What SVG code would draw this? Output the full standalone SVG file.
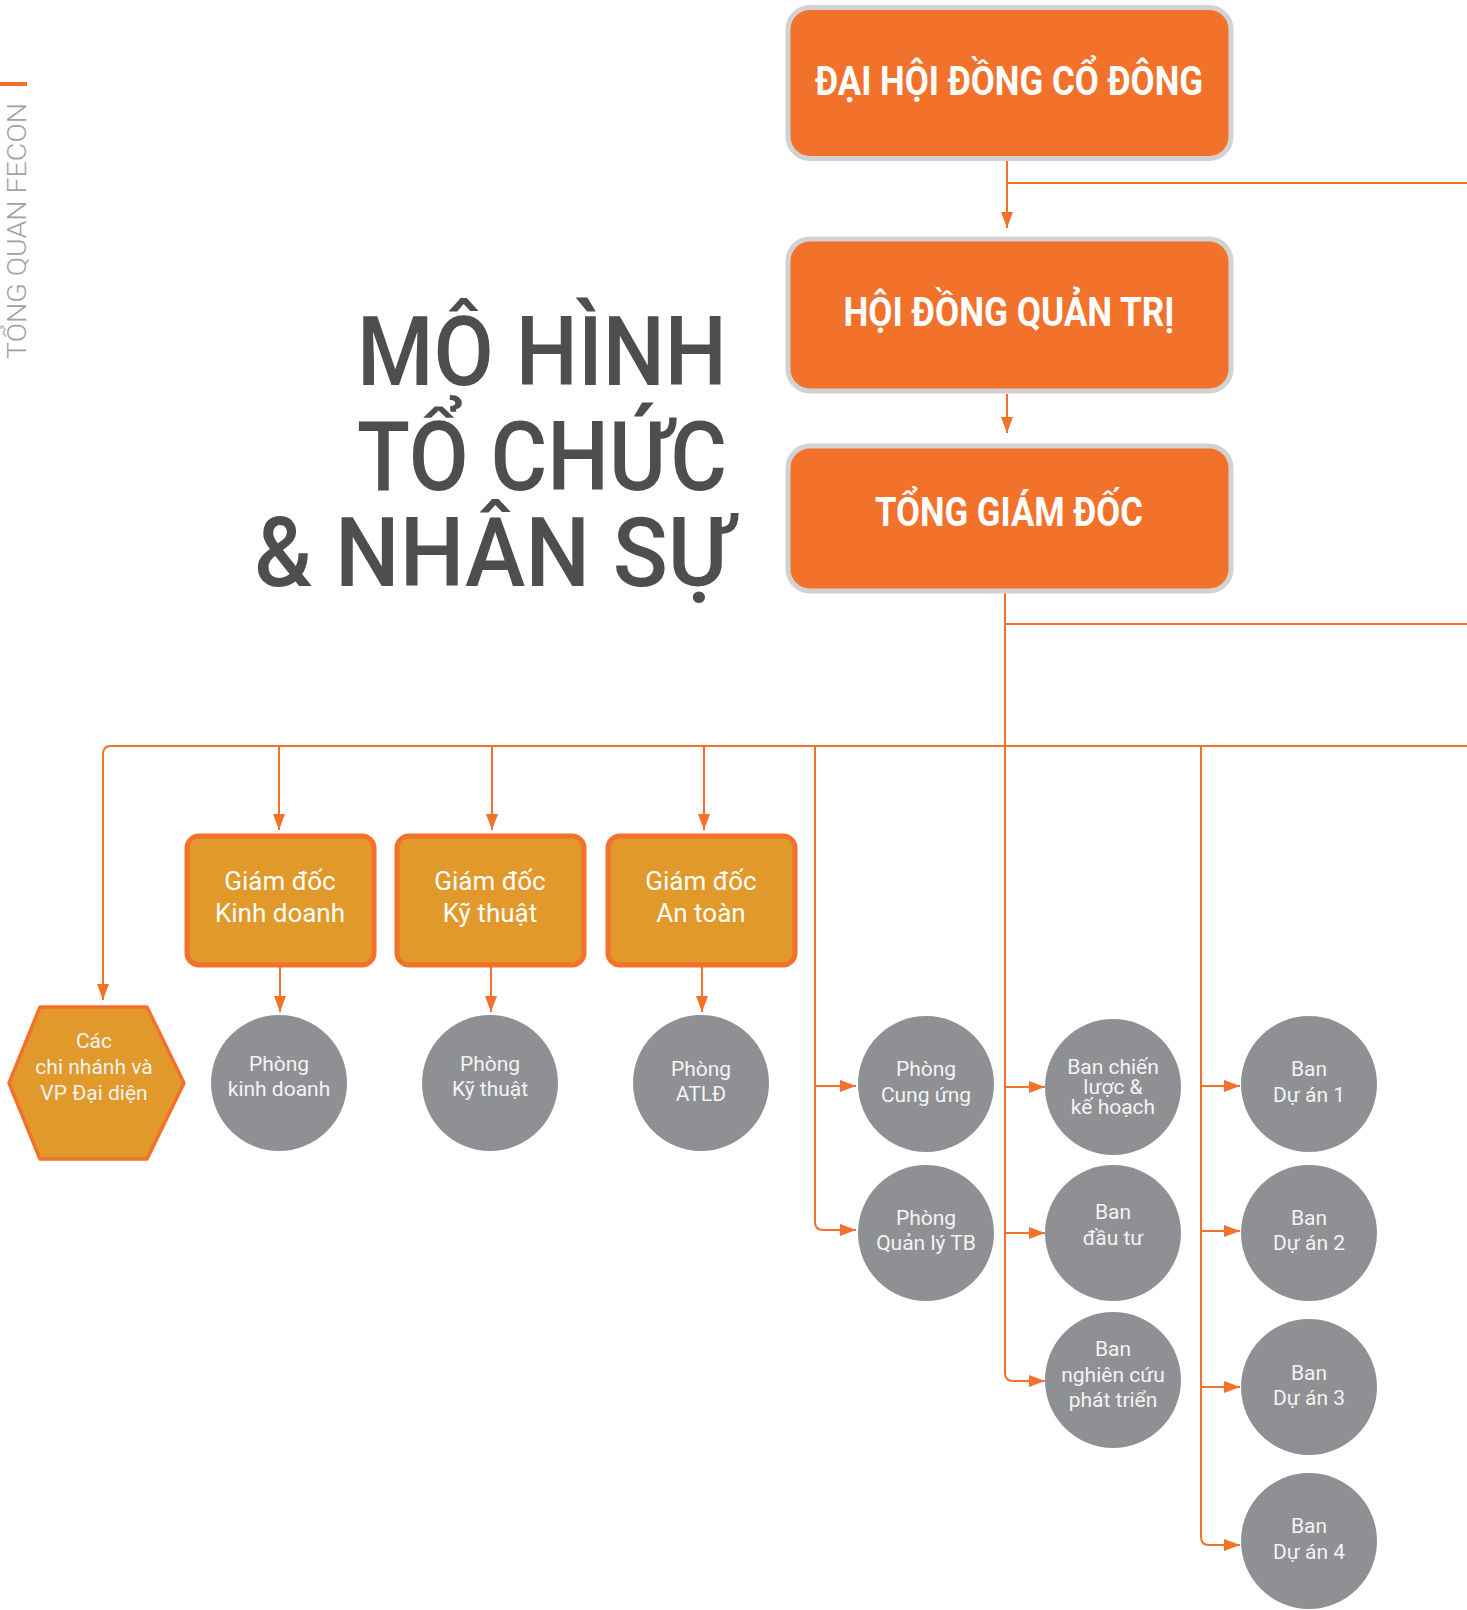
<svg xmlns="http://www.w3.org/2000/svg" width="1467" height="1610" viewBox="0 0 1467 1610">
<defs>
<marker id="arr" markerUnits="userSpaceOnUse" markerWidth="17" markerHeight="13" refX="16" refY="6" orient="auto">
<path d="M0,0 L16,6 L0,12 z" fill="#f2712b"/>
</marker>
<style>
.top rect{fill:#f2712b;stroke:#d1d2d4;stroke-width:5}
.top text{font-family:Roboto,"Liberation Sans",sans-serif;font-weight:700;font-size:40px;fill:#ffffff;text-anchor:middle}
.dir rect{fill:#e0992a;stroke:#f2712b;stroke-width:5}
.dir text{font-family:Roboto,"Liberation Sans",sans-serif;font-weight:400;font-size:26px;fill:#ffffff;text-anchor:middle}
.cir circle{fill:#8f9094}
.cir text, .hex text{font-family:Roboto,"Liberation Sans",sans-serif;font-weight:400;font-size:21px;fill:#f3f3f3;text-anchor:middle}
.hex polygon{fill:#e0992a;stroke:#f2712b;stroke-width:3.5;stroke-linejoin:round}
#connectors path{fill:none;stroke:#f2712b;stroke-width:2}
.title{font-family:Roboto,"Liberation Sans",sans-serif;font-weight:500;font-size:96px;fill:#4d4e50}
</style>
</defs>
<rect width="1467" height="1610" fill="#ffffff"/>

<g id="side">
<rect x="0" y="82" width="27" height="4" fill="#f2712b"/>
<text transform="translate(26,359) rotate(-90)" font-family="Roboto,'Liberation Sans',sans-serif" font-weight="300" font-size="25" fill="#9ca3a7" textLength="256" lengthAdjust="spacingAndGlyphs">TỔNG QUAN FECON</text>
</g>

<g id="title">
<text class="title" x="357" y="385" textLength="370" lengthAdjust="spacingAndGlyphs">MÔ HÌNH</text>
<text class="title" x="357" y="490" textLength="370" lengthAdjust="spacingAndGlyphs">TỔ CHỨC</text>
<text class="title" x="254" y="586" textLength="478" lengthAdjust="spacingAndGlyphs">&amp; NHÂN SỰ</text>
</g>

<g id="connectors">
<path d="M1007 161 V228" marker-end="url(#arr)"/>
<path d="M1007 183 H1467"/>
<path d="M1007 394 V433" marker-end="url(#arr)"/>
<path d="M1005 593 V1373 Q1005 1381 1013 1381 H1045" marker-end="url(#arr)"/>
<path d="M1005 624 H1467"/>
<path d="M1467 746 H111 Q103 746 103 754 V1000" marker-end="url(#arr)"/>
<path d="M279 746 V830" marker-end="url(#arr)"/>
<path d="M492 746 V830" marker-end="url(#arr)"/>
<path d="M704 746 V830" marker-end="url(#arr)"/>
<path d="M280 967 V1012" marker-end="url(#arr)"/>
<path d="M491 967 V1012" marker-end="url(#arr)"/>
<path d="M702 967 V1012" marker-end="url(#arr)"/>
<path d="M815 746 V1222 Q815 1230 823 1230 H856" marker-end="url(#arr)"/>
<path d="M815 1086 H856" marker-end="url(#arr)"/>
<path d="M1005 1087 H1045" marker-end="url(#arr)"/>
<path d="M1005 1233 H1045" marker-end="url(#arr)"/>
<path d="M1201 746 V1537 Q1201 1545 1209 1545 H1240" marker-end="url(#arr)"/>
<path d="M1201 1086 H1240" marker-end="url(#arr)"/>
<path d="M1201 1231 H1240" marker-end="url(#arr)"/>
<path d="M1201 1387 H1240" marker-end="url(#arr)"/>
</g>

<g id="dhdcd" class="top">
<rect x="788" y="7.5" width="443" height="151" rx="22"/>
<text x="1009" y="95" textLength="388" lengthAdjust="spacingAndGlyphs">ĐẠI HỘI ĐỒNG CỔ ĐÔNG</text>
</g>
<g id="hdqt" class="top">
<rect x="788" y="239" width="443" height="152" rx="22"/>
<text x="1009" y="326" textLength="331" lengthAdjust="spacingAndGlyphs">HỘI ĐỒNG QUẢN TRỊ</text>
</g>
<g id="tgd" class="top">
<rect x="788" y="446" width="443" height="145" rx="22"/>
<text x="1009" y="526" textLength="268" lengthAdjust="spacingAndGlyphs">TỔNG GIÁM ĐỐC</text>
</g>

<g id="gd-kd" class="dir">
<rect x="187" y="836" width="187" height="129" rx="12"/>
<text x="280" y="890">Giám đốc</text>
<text x="280" y="922">Kinh doanh</text>
</g>
<g id="gd-kt" class="dir">
<rect x="397" y="836" width="187" height="129" rx="12"/>
<text x="490" y="890">Giám đốc</text>
<text x="490" y="922">Kỹ thuật</text>
</g>
<g id="gd-at" class="dir">
<rect x="608" y="836" width="187" height="129" rx="12"/>
<text x="701" y="890">Giám đốc</text>
<text x="701" y="922">An toàn</text>
</g>

<g id="chinhanh" class="hex">
<polygon points="40,1007 147,1007 184,1083 147,1159 40,1159 9,1083"/>
<text x="94" y="1048">Các</text>
<text x="94" y="1074">chi nhánh và</text>
<text x="94" y="1100">VP Đại diện</text>
</g>

<g id="p-kd" class="cir">
<circle cx="279" cy="1083" r="68"/>
<text x="279" y="1071">Phòng</text>
<text x="279" y="1096">kinh doanh</text>
</g>
<g id="p-kt" class="cir">
<circle cx="490" cy="1083" r="68"/>
<text x="490" y="1071">Phòng</text>
<text x="490" y="1096">Kỹ thuật</text>
</g>
<g id="p-atld" class="cir">
<circle cx="701" cy="1083" r="68"/>
<text x="701" y="1076">Phòng</text>
<text x="701" y="1101">ATLĐ</text>
</g>

<g id="p-cu" class="cir">
<circle cx="926" cy="1084" r="68"/>
<text x="926" y="1076">Phòng</text>
<text x="926" y="1102">Cung ứng</text>
</g>
<g id="p-qltb" class="cir">
<circle cx="926" cy="1233" r="68"/>
<text x="926" y="1225">Phòng</text>
<text x="926" y="1250">Quản lý TB</text>
</g>

<g id="b-cl" class="cir">
<circle cx="1113" cy="1087" r="68"/>
<text x="1113" y="1074">Ban chiến</text>
<text x="1113" y="1094">lược &amp;</text>
<text x="1113" y="1114">kế hoạch</text>
</g>
<g id="b-dt" class="cir">
<circle cx="1113" cy="1233" r="68"/>
<text x="1113" y="1219">Ban</text>
<text x="1113" y="1245">đầu tư</text>
</g>
<g id="b-nc" class="cir">
<circle cx="1113" cy="1380" r="68"/>
<text x="1113" y="1356">Ban</text>
<text x="1113" y="1382">nghiên cứu</text>
<text x="1113" y="1407">phát triển</text>
</g>

<g id="da1" class="cir">
<circle cx="1309" cy="1084" r="68"/>
<text x="1309" y="1076">Ban</text>
<text x="1309" y="1102">Dự án 1</text>
</g>
<g id="da2" class="cir">
<circle cx="1309" cy="1233" r="68"/>
<text x="1309" y="1225">Ban</text>
<text x="1309" y="1250">Dự án 2</text>
</g>
<g id="da3" class="cir">
<circle cx="1309" cy="1387" r="68"/>
<text x="1309" y="1380">Ban</text>
<text x="1309" y="1405">Dự án 3</text>
</g>
<g id="da4" class="cir">
<circle cx="1309" cy="1541" r="68"/>
<text x="1309" y="1533">Ban</text>
<text x="1309" y="1559">Dự án 4</text>
</g>
</svg>
